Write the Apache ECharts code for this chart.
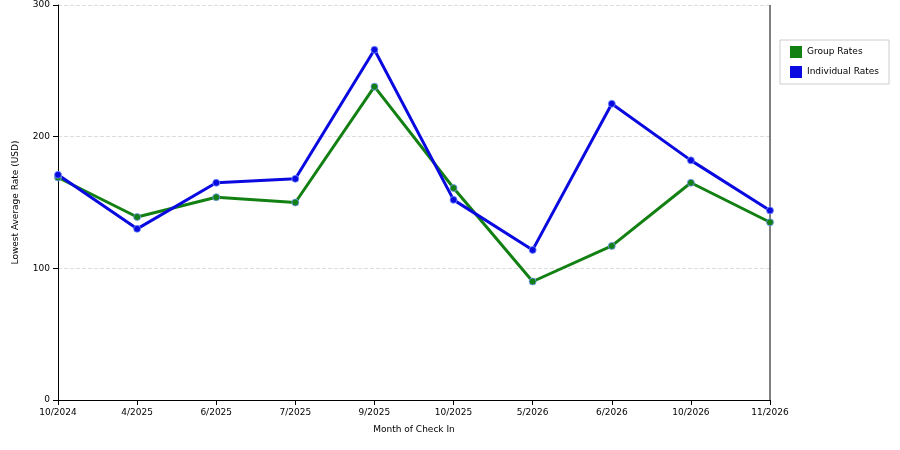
<!DOCTYPE html>
<html><head><meta charset="utf-8">
<script src="https://cdn.jsdelivr.net/npm/echarts@6/dist/echarts.min.js"></script>
<style>html,body{margin:0;padding:0;background:#fff}#c{width:900px;height:450px}</style>
</head><body><div id="c"></div>
<script>
const categories=["10/2024","4/2025","6/2025","7/2025","9/2025","10/2025","5/2026","6/2026","10/2026","11/2026"];
const groupRates=[169,139,154,150,238,161,90,117,165,135];
const individualRates=[171,130,165,168,266,152,114,225,182,144];
const yTicks={min:0,max:300,interval:100};
const chart=echarts.init(document.getElementById('c'));
const font='DejaVu Sans';
function s(name,data,color){return{name,type:'line',data,symbol:'circle',symbolSize:7,
 lineStyle:{color,width:3},itemStyle:{color,borderColor:'rgba(120,150,255,0.8)',borderWidth:1},animation:false};}
chart.setOption({
 animation:false,
 grid:{left:58,right:130,top:5,bottom:50},
 legend:{orient:'vertical',right:11,top:40,itemWidth:12,itemHeight:12,itemGap:8,padding:[6,10,6,10],
  borderColor:'#ccc',borderWidth:1,icon:'rect',itemStyle:{borderWidth:0},textStyle:{fontFamily:font,fontSize:9,color:'#000'},
  data:['Group Rates','Individual Rates']},
 xAxis:{type:'category',data:categories,boundaryGap:false,name:'Month of Check In',nameLocation:'middle',nameGap:25,
  nameTextStyle:{fontFamily:font,fontSize:9,color:'#000'},
  axisLine:{lineStyle:{color:'#000'}},axisTick:{alignWithLabel:true,length:5,lineStyle:{color:'#000'}},
  axisLabel:{fontFamily:font,fontSize:9,color:'#000'},splitLine:{show:false}},
 yAxis:{type:'value',min:yTicks.min,max:yTicks.max,interval:yTicks.interval,name:'Lowest Average Rate (USD)',
  nameLocation:'middle',nameGap:38,nameTextStyle:{fontFamily:font,fontSize:9,color:'#000'},
  axisLine:{show:true,lineStyle:{color:'#000'}},axisTick:{show:true,length:5,lineStyle:{color:'#000'}},
  axisLabel:{fontFamily:font,fontSize:9,color:'#000'},
  splitLine:{lineStyle:{color:'#ddd',type:'dashed'}}},
 series:[s('Group Rates',groupRates,'#138013'),s('Individual Rates',individualRates,'#0a0ae0')]
});
chart.setOption({graphic:[{type:'line',shape:{x1:770,y1:5,x2:770,y2:400},style:{stroke:'#000',lineWidth:1}}]});
</script></body></html>
